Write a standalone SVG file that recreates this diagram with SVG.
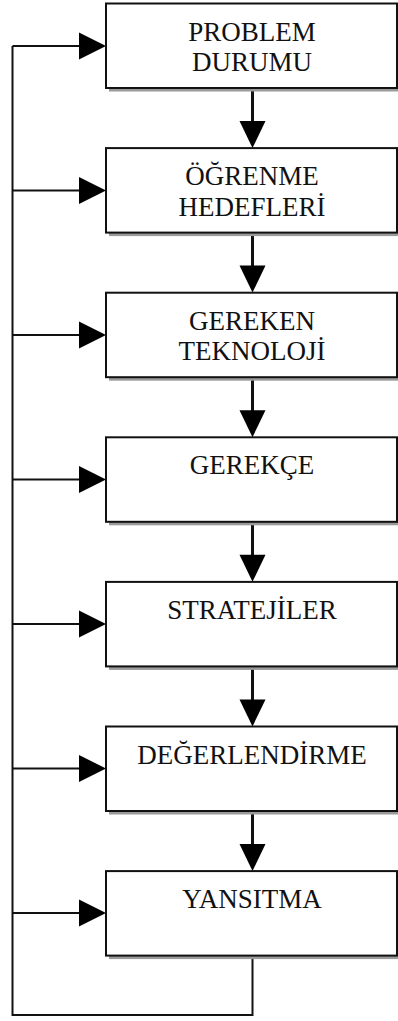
<svg xmlns="http://www.w3.org/2000/svg" width="398" height="1021" viewBox="0 0 398 1021">
<style>
.box{fill:#fff;stroke:#111;stroke-width:2}
.shadow{fill:#9a9a9a}
.t{font-family:"Liberation Serif","Times New Roman",serif;font-size:27px;fill:#111;text-anchor:middle}
.ln{stroke:#111;stroke-width:2;fill:none}
.sh{stroke:#111;stroke-width:3;fill:none}
.ah{fill:#000}
</style>
<rect width="398" height="1021" fill="#fff"/>
<g id="connectors">
<path class="ln" d="M252.5,955.5 V1015 H12.5 V46"/>
<path class="ln" d="M12.5,46 H80 M12.5,190.5 H80 M12.5,335 H80 M12.5,479.5 H80 M12.5,624 H80 M12.5,768.5 H80 M12.5,913 H80"/>
<polygon class="ah" points="79,32.5 106,46 79,59.5"/>
<polygon class="ah" points="79,177 106,190.5 79,204"/>
<polygon class="ah" points="79,321.5 106,335 79,348.5"/>
<polygon class="ah" points="79,466 106,479.5 79,493"/>
<polygon class="ah" points="79,610.5 106,624 79,637.5"/>
<polygon class="ah" points="79,755 106,768.5 79,782"/>
<polygon class="ah" points="79,899.5 106,913 79,926.5"/>
<path class="sh" d="M252.5,88 V123 M252.5,232.6 V267.5 M252.5,377.2 V412 M252.5,521.8 V556.5 M252.5,666.4 V701 M252.5,811 V846"/>
<polygon class="ah" points="239.5,121 265.5,121 252.5,148"/>
<polygon class="ah" points="239.5,265.6 265.5,265.6 252.5,292.6"/>
<polygon class="ah" points="239.5,410.2 265.5,410.2 252.5,437.2"/>
<polygon class="ah" points="239.5,554.8 265.5,554.8 252.5,581.8"/>
<polygon class="ah" points="239.5,699.4 265.5,699.4 252.5,726.4"/>
<polygon class="ah" points="239.5,844 265.5,844 252.5,871"/>
</g>
<g id="n1"><rect class="shadow" x="109" y="7" width="291" height="84.5"/><rect class="box" x="106" y="3.5" width="291" height="84.5"/><text class="t" x="252" y="40.5">PROBLEM</text><text class="t" x="252" y="71">DURUMU</text></g>
<g id="n2"><rect class="shadow" x="109" y="151.6" width="291" height="84.5"/><rect class="box" x="106" y="148.1" width="291" height="84.5"/><text class="t" x="252" y="185.1">ÖĞRENME</text><text class="t" x="252" y="215.6">HEDEFLERİ</text></g>
<g id="n3"><rect class="shadow" x="109" y="296.2" width="291" height="84.5"/><rect class="box" x="106" y="292.7" width="291" height="84.5"/><text class="t" x="252" y="329.7">GEREKEN</text><text class="t" x="252" y="360.2">TEKNOLOJİ</text></g>
<g id="n4"><rect class="shadow" x="109" y="440.8" width="291" height="84.5"/><rect class="box" x="106" y="437.3" width="291" height="84.5"/><text class="t" x="252" y="474.3">GEREKÇE</text></g>
<g id="n5"><rect class="shadow" x="109" y="585.4" width="291" height="84.5"/><rect class="box" x="106" y="581.9" width="291" height="84.5"/><text class="t" x="252" y="618.9">STRATEJİLER</text></g>
<g id="n6"><rect class="shadow" x="109" y="730" width="291" height="84.5"/><rect class="box" x="106" y="726.5" width="291" height="84.5"/><text class="t" x="252" y="763.5">DEĞERLENDİRME</text></g>
<g id="n7"><rect class="shadow" x="109" y="874.6" width="291" height="84.5"/><rect class="box" x="106" y="871.1" width="291" height="84.5"/><text class="t" x="252" y="908.1">YANSITMA</text></g>
</svg>
